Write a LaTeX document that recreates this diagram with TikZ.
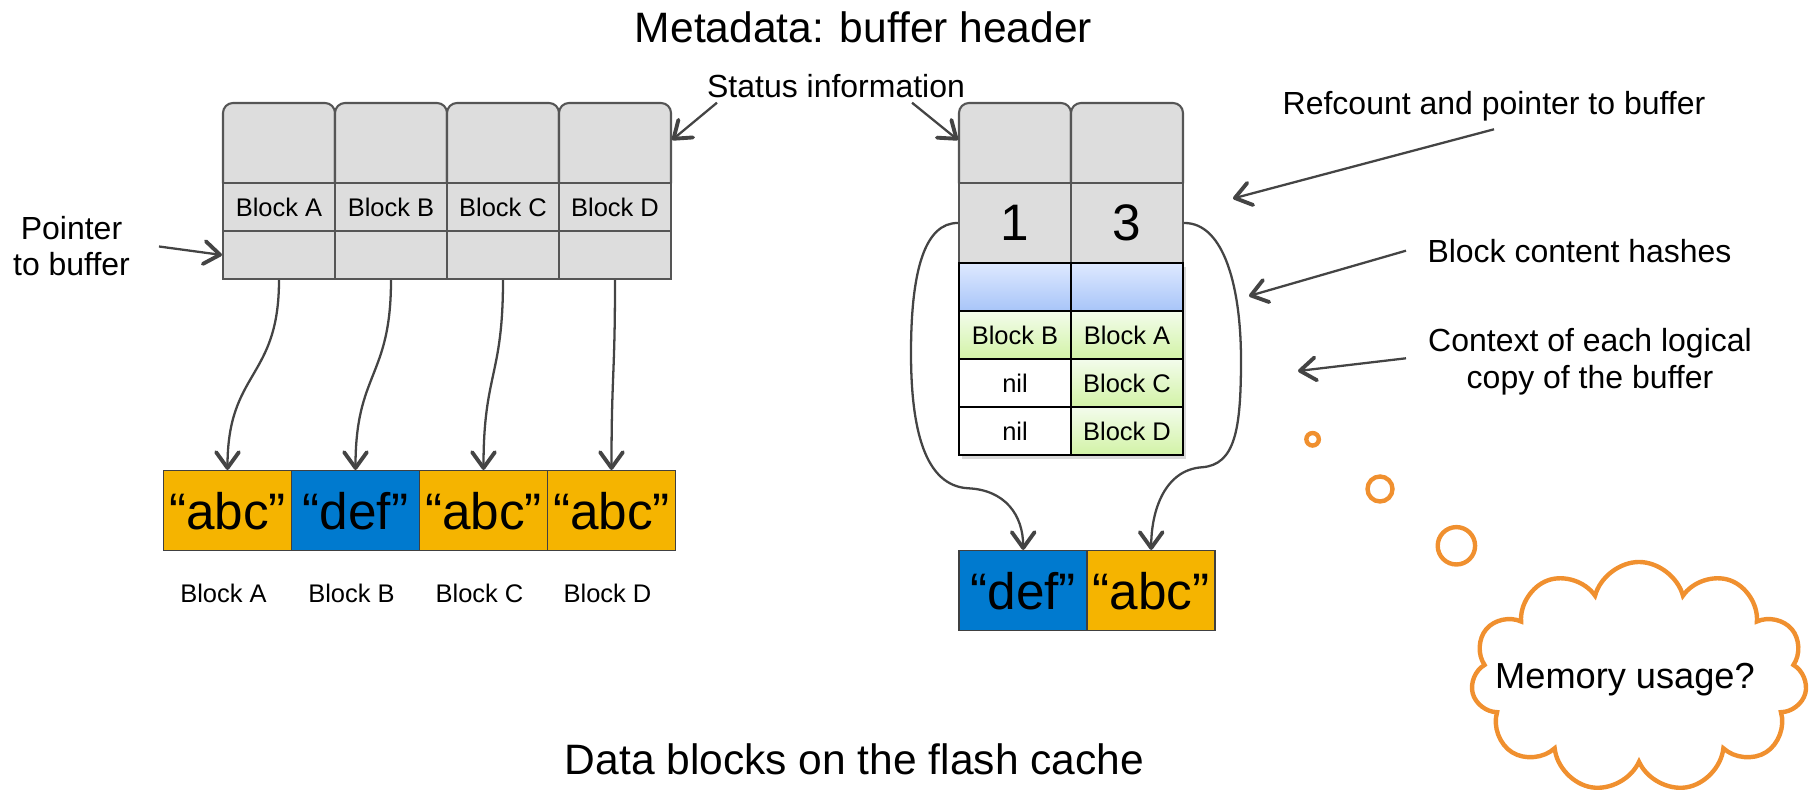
\documentclass[tikz,border=0pt]{standalone}
\usepackage{fontspec}
\setmainfont{Liberation Sans}
\usetikzlibrary{arrows.meta,shapes.symbols,shadows}

\definecolor{hdrgray}{HTML}{DDDDDD}
\definecolor{hdredge}{HTML}{555555}
\definecolor{wire}{HTML}{444444}
\definecolor{gold}{HTML}{F5B400}
\definecolor{azure}{HTML}{007ACF}
\definecolor{hashtop}{HTML}{DEE9FF}
\definecolor{hashbot}{HTML}{A8C5F8}
\definecolor{ctxtop}{HTML}{F3FCEC}
\definecolor{ctxbot}{HTML}{D2F3A6}
\definecolor{thought}{HTML}{F0902F}

\newcommand{\blocksize}{\fontsize{7.25pt}{8.7pt}\selectfont}
\newcommand{\notesize}{\fontsize{9.1pt}{10.4pt}\selectfont}
\newcommand{\titlesize}{\fontsize{12.1pt}{14.5pt}\selectfont}
\newcommand{\bigsize}{\fontsize{14.6pt}{17.5pt}\selectfont}
\newcommand{\thinksize}{\fontsize{10.3pt}{12.4pt}\selectfont}

\tikzset{
 status/.style={draw=hdredge, fill=hdrgray, line width=0.6pt, rounded corners=0.1cm,
  minimum width=1.12cm, minimum height=0.9cm, inner sep=0pt},
 hdrcell/.style={draw=hdredge, fill=hdrgray, line width=0.6pt,
  minimum width=1.12cm, minimum height=0.48cm, inner sep=0pt, font=\blocksize},
 countcell/.style={hdrcell, minimum height=0.8cm, font=\bigsize},
 lowcell/.style={draw=black, line width=0.7pt, minimum width=1.12cm, minimum height=0.48cm,
  inner sep=0pt, font=\blocksize,
  drop shadow={shadow xshift=0.03cm, shadow yshift=-0.04cm, opacity=0.3}},
 hashcell/.style={lowcell, top color=hashtop, bottom color=hashbot},
 ctxcell/.style={lowcell, top color=ctxtop, bottom color=ctxbot},
 nilcell/.style={lowcell, fill=white},
 datum/.style={draw=black!75, line width=0.45pt, minimum width=1.28cm, minimum height=0.8cm,
  inner sep=0pt, font=\bigsize},
 note/.style={font=\notesize, align=center, inner sep=0pt},
 pointsto/.style={->, wire, line width=0.65pt},
 bubble/.style={circle, draw=thought, line width=1.25pt, inner sep=0pt},
}

% one column of the buffer header: name, x, block
\newcommand{\bufcolumn}[3]{%
 \node[status] (st#1) at (#2,-1.48) {};%
 \node[hdrcell] (nm#1) at (#2,-2.07) {#3};%
 \node[hdrcell] (pt#1) at (#2,-2.55) {};%
}

\begin{document}
\begin{tikzpicture}[>={Straight Barb[length=4.5pt,width=6.5pt,line width=1.1pt,round]}]
 \useasboundingbox (0,0) rectangle (18.18,-7.92);
 \node[font=\titlesize] (meta) at (8.635,-0.275) {Metadata: buffer header};
 \node[font=\titlesize] (flash) at (8.545,-7.59) {Data blocks on the flash cache};

 % buffer header
 \bufcolumn{A}{2.79}{Block A}
 \bufcolumn{B}{3.91}{Block B}
 \bufcolumn{C}{5.03}{Block C}
 \bufcolumn{D}{6.15}{Block D}

 % blocks on the flash
 \node[datum, fill=gold] (dA) at (2.275,-5.107) {“abc”};
 \node[datum, fill=azure] (dB) at (3.555,-5.107) {“def”};
 \node[datum, fill=gold] (dC) at (4.835,-5.107) {“abc”};
 \node[datum, fill=gold] (dD) at (6.115,-5.107) {“abc”};
 \node[font=\blocksize, inner sep=0pt] (lA) at (2.235,-5.933) {Block A};
 \node[font=\blocksize, inner sep=0pt] (lB) at (3.515,-5.933) {Block B};
 \node[font=\blocksize, inner sep=0pt] (lC) at (4.795,-5.933) {Block C};
 \node[font=\blocksize, inner sep=0pt] (lD) at (6.075,-5.933) {Block D};

 \path[pointsto] (ptA) edge[out=-90, in=90, looseness=1.3] (dA)
                 (ptB) edge[out=-90, in=90, looseness=1.3] (dB)
                 (ptC) edge[out=-90, in=90, looseness=1.3] (dC)
                 (ptD) edge[out=-90, in=90, looseness=1.3] (dD);

 % deduplicated header
 \node[status] (stL) at (10.15,-1.48) {};
 \node[status] (stR) at (11.27,-1.48) {};
 \node[countcell] (rcL) at (10.15,-2.23) {1};
 \node[countcell] (rcR) at (11.27,-2.23) {3};
 \node[hashcell] (hsL) at (10.15,-2.87) {};
 \node[hashcell] (hsR) at (11.27,-2.87) {};
 \node[ctxcell] (c1L) at (10.15,-3.35) {Block B};
 \node[ctxcell] (c1R) at (11.27,-3.35) {Block A};
 \node[nilcell] (c2L) at (10.15,-3.83) {nil};
 \node[ctxcell] (c2R) at (11.27,-3.83) {Block C};
 \node[nilcell] (c3L) at (10.15,-4.31) {nil};
 \node[ctxcell] (c3R) at (11.27,-4.31) {Block D};

 \node[datum, fill=azure] (rdef) at (10.232,-5.907) {“def”};
 \node[datum, fill=gold] (rabc) at (11.512,-5.907) {“abc”};

 \draw[pointsto] (rcL.west) .. controls (9.25,-2.227) and (9.11,-2.7) .. (9.11,-3.53)
   .. controls (9.11,-4.3) and (9.25,-4.86) .. (9.683,-4.883)
   .. controls (10.05,-4.9) and (10.232,-5.15) .. (rdef.north);
 \draw[pointsto] (rcR.east) .. controls (12.25,-2.227) and (12.41,-2.9) .. (12.41,-3.6)
   .. controls (12.41,-4.3) and (12.35,-4.65) .. (12.017,-4.673)
   .. controls (11.65,-4.7) and (11.512,-5.1) .. (rabc.north);

 % notes
 \node[note] (statusnote) at (8.36,-0.865) {Status information};
 \node[note] (ptrnote) at (0.715,-2.463) {Pointer\\to buffer};
 \node[note] (refnote) at (14.94,-1.058) {Refcount and pointer to buffer};
 \node[note] (hashnote) at (15.795,-2.508) {Block content hashes};
 \node[note] (ctxnote) at (15.9,-3.62) {Context of each logical\\copy of the buffer};

 \coordinate (sA) at (7.17,-1.027);
 \coordinate (sL) at (9.12,-1.027);
 \coordinate (pA) at (1.59,-2.465);
 \coordinate (rfrom) at (14.94,-1.293);
 \coordinate (rto) at (12.33,-1.985);
 \coordinate (hfrom) at (14.06,-2.507);
 \coordinate (hto) at (12.49,-2.96);
 \coordinate (cfrom) at (14.06,-3.583);
 \coordinate (cto) at (12.98,-3.71);
 \draw[pointsto] (sA) -- ([yshift=0.08cm]stD.east);
 \draw[pointsto] (sL) -- ([yshift=0.08cm]stL.west);
 \draw[pointsto] (pA) -- (ptA.west);
 \draw[pointsto] (rfrom) -- (rto);
 \draw[pointsto] (hfrom) -- (hto);
 \draw[pointsto] (cfrom) -- (cto);

 % thought bubble
 \node[bubble, minimum size=0.125cm] (b1) at (13.126,-4.393) {};
 \node[bubble, minimum size=0.25cm] (b2) at (13.80,-4.89) {};
 \node[bubble, minimum size=0.374cm] (b3) at (14.564,-5.458) {};
 \node[cloud, cloud puffs=11, cloud ignores aspect, draw=thought, line width=1.25pt,
  minimum width=3.36cm, minimum height=2.3cm, inner sep=0pt] (cloud) at (16.39,-6.77) {};
 \node[font=\thinksize] (memq) at (16.25,-6.795) {Memory usage?};
\end{tikzpicture}
\end{document}
